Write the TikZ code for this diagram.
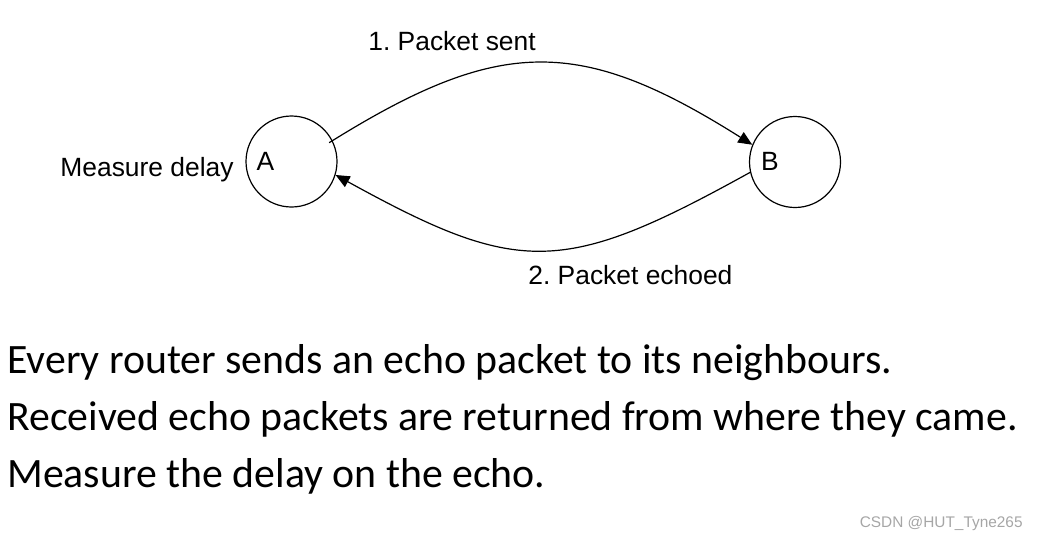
\documentclass[tikz,border=0pt]{standalone}
\usepackage{fontspec}
\setmainfont{Liberation Sans}
\newfontfamily\notefont{Carlito}
\usetikzlibrary{arrows.meta}
\frenchspacing

\begin{document}
\begin{tikzpicture}[
        x=0.5pt, y=-0.5pt, % 1 unit = 1 pixel of the reference
        router/.style = {circle, draw, line width=0.6pt, minimum size=45.5pt, inner sep=0pt}, % Routers
        tag/.style = {inner sep=0pt, font=\fontsize{13.2pt}{15pt}\selectfont},
        note/.style = {inner sep=0pt, anchor=base west, font=\notefont\fontsize{20.9pt}{24pt}\selectfont},
        packet/.style = {line width=0.6pt, -{Triangle[length=7pt,width=6pt]}},
    ]
    \useasboundingbox (0,0) rectangle (1042,542);

    \node[router] (A) at (291.5,161.5) {};
    \node[router] (B) at (795,162) {};
    \node[tag] (nameA) at ([xshift=-13pt]A.center) {A};
    \node[tag] (nameB) at ([xshift=-12.5pt,yshift=0.5pt]B.center) {B};
    \node[tag, anchor=base east] (measure) at (234,176) {Measure delay};

    % echo round trip
    \draw[packet, shorten <=-2pt] (A.27) .. controls (500,36) and (580,36) .. (B.158);
    \draw[packet] (B.193) .. controls (563,276) and (519,276) .. (A.-17);
    \node[tag, anchor=base west] (sent) at (368,50) {1. Packet sent};
    \node[tag, anchor=base west] (echoed) at (528,284) {2. Packet echoed};

    % explanation
    \node[note] (line1) at (7,373) {Every router sends an echo packet to its neighbours.};
    \node[note] (line2) at (7,430) {Received echo packets are returned from where they came.};
    \node[note] (line3) at (7,487) {Measure the delay on the echo.};

    \node[inner sep=0pt, anchor=base east, text=black!35, font=\fontsize{7.7pt}{9pt}\selectfont] (mark) at (1023,527) {CSDN @HUT\_Tyne265};
\end{tikzpicture}
\end{document}
